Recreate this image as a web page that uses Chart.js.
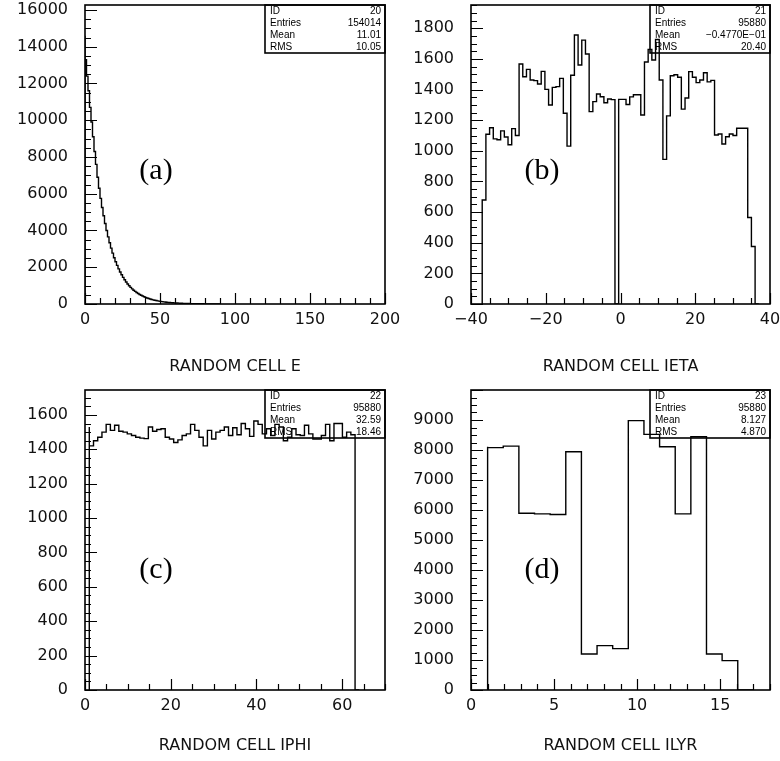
<!DOCTYPE html>
<html>
<head>
<meta charset="utf-8">
<script src="https://cdn.jsdelivr.net/npm/chart.js@4.4.0/dist/chart.umd.min.js"></script>
<style>
	body { margin: 0; background: #fff; }
	#page { position: relative; width: 780px; height: 761px; overflow: hidden; }
	.panel { position: absolute; }
</style>
</head>
<body>
<div id="page">
	<div class="panel" style="left:0;top:0"><canvas id="chartE" width="400" height="380"></canvas></div>
	<div class="panel" style="left:390px;top:0"><canvas id="chartIeta" width="390" height="380"></canvas></div>
	<div class="panel" style="left:0;top:380px"><canvas id="chartIphi" width="400" height="381"></canvas></div>
	<div class="panel" style="left:390px;top:380px"><canvas id="chartIlyr" width="390" height="381"></canvas></div>
</div>
<script>
// (a) RANDOM CELL E : bins of width 1 starting at 0
var eBinLow = 0;
var eBinHigh = 90;
var eCounts = [14600, 13300, 12400, 11600, 10700, 9900, 9100, 8300, 7600, 6900,
	6300, 5750, 5250, 4800, 4380, 4000, 3650, 3330, 3040, 2770,
	2520, 2300, 2100, 1910, 1740, 1590, 1450, 1320, 1200, 1090,
	995, 905, 825, 750, 685, 625, 570, 520, 475, 432,
	395, 360, 328, 298, 272, 248, 226, 206, 188, 171,
	156, 142, 129, 118, 107, 98, 89, 81, 74, 67,
	61, 56, 51, 46, 42, 38, 35, 32, 29, 26,
	24, 22, 20, 18, 16, 15, 13, 12, 11, 10,
	9, 8, 7, 7, 6, 5, 5, 4, 4, 3];
var eTicksX = [0, 50, 100, 150, 200];
var eTicksY = [0, 2000, 4000, 6000, 8000, 10000, 12000, 14000, 16000];
var eStats = [["ID", "20"], ["Entries", "154014"], ["Mean", "11.01"], ["RMS", "10.05"]];

// (b) RANDOM CELL IETA : 75 bins from -37 to 37
var ietaBinLow = -37;
var ietaBinHigh = 37;
var ietaCounts = [357, 679, 1108, 1151, 1078, 1072, 1130, 1090, 1040, 1145,
	1100, 1567, 1484, 1532, 1462, 1458, 1436, 1519, 1401, 1299,
	1414, 1419, 1473, 1245, 1031, 1493, 1756, 1560, 1723, 1632,
	1256, 1321, 1371, 1353, 1314, 1338, 1334, 0, 1336, 1336,
	1302, 1352, 1366, 1366, 1234, 1580, 1662, 1593, 1727, 1462,
	944, 1228, 1490, 1497, 1480, 1272, 1345, 1517, 1480, 1445,
	1462, 1510, 1450, 1460, 1103, 1110, 1045, 1092, 1110, 1100,
	1147, 1147, 1147, 565, 375];
var ietaTicksX = [-40, -20, 0, 20, 40];
var ietaTicksY = [0, 200, 400, 600, 800, 1000, 1200, 1400, 1600, 1800];
var ietaStats = [["ID", "21"], ["Entries", "95880"], ["Mean", "\u22120.4770E\u221201"], ["RMS", "20.40"]];

// (c) RANDOM CELL IPHI : 64 bins from 1 to 64
var iphiBinLow = 1;
var iphiBinHigh = 64;
var iphiCounts = [1530, 1420, 1450, 1470, 1500, 1545, 1510, 1540, 1505, 1500,
	1490, 1480, 1470, 1465, 1462, 1530, 1505, 1515, 1520, 1470,
	1460, 1440, 1455, 1480, 1490, 1545, 1510, 1470, 1420, 1510,
	1460, 1500, 1510, 1530, 1480, 1525, 1485, 1550, 1520, 1475,
	1565, 1545, 1490, 1520, 1480, 1545, 1530, 1450, 1470, 1520,
	1485, 1480, 1540, 1490, 1460, 1460, 1480, 1545, 1450, 1550,
	1550, 1470, 1500, 1485];
var iphiTicksX = [0, 20, 40, 60];
var iphiTicksY = [0, 200, 400, 600, 800, 1000, 1200, 1400, 1600];
var iphiStats = [["ID", "22"], ["Entries", "95880"], ["Mean", "32.59"], ["RMS", "18.46"]];

// (d) RANDOM CELL ILYR : 17 bins from 1 to 17
var ilyrBinLow = 1;
var ilyrBinHigh = 17;
var ilyrCounts = [8110, 8080, 8130, 5890, 5870, 5850, 7940, 1200, 1480, 1380,
	8980, 8520, 8110, 5870, 8440, 1200, 980];
var ilyrTicksX = [0, 5, 10, 15];
var ilyrTicksY = [0, 1000, 2000, 3000, 4000, 5000, 6000, 7000, 8000, 9000];
var ilyrStats = [["ID", "23"], ["Entries", "95880"], ["Mean", "8.127"], ["RMS", "4.870"]];

var labelFont = { family: "DejaVu Sans", size: 16 };

// outline of a histogram as points for a stepped line
function histPoints(lo, hi, counts) {
	var w = (hi - lo) / counts.length;
	var pts = [{ x: lo, y: 0 }];
	counts.forEach(function (c, i) {
		pts.push({ x: lo + i * w, y: c });
	});
	pts.push({ x: hi, y: 0 });
	return pts;
}

function fmt(v) {
	return v < 0 ? "\u2212" + Math.abs(v) : String(v);
}

function isMajor(v, step) {
	var r = Math.abs(v / step - Math.round(v / step));
	return r < 1e-6;
}

// PAW style frame, inward ticks, stats box and panel tag
var pawPlugin = {
	id: "paw",
	afterDatasetsDraw: function (chart, args, o) {
		var ctx = chart.ctx;
		var a = chart.chartArea;
		var xs = chart.scales.x;
		var ys = chart.scales.y;
		ctx.save();
		ctx.strokeStyle = "#000";

		ctx.lineWidth = 1.2;
		ctx.beginPath();
		var n = Math.round((xs.max - xs.min) / o.xMinor);
		for (var i = 0; i <= n; i++) {
			var v = xs.min + i * o.xMinor;
			var px = Math.round(xs.getPixelForValue(v)) + 0.5;
			var len = isMajor(v, o.xMajor) ? 11 : 6;
			ctx.moveTo(px, a.bottom);
			ctx.lineTo(px, a.bottom - len);
		}
		n = Math.floor((ys.max - ys.min) / o.yMinor + 1e-6);
		for (var j = 0; j <= n; j++) {
			var w = ys.min + j * o.yMinor;
			var py = Math.round(ys.getPixelForValue(w)) + 0.5;
			var l2 = isMajor(w, o.yMajor) ? 12 : 6;
			ctx.moveTo(a.left, py);
			ctx.lineTo(a.left + l2, py);
		}
		ctx.stroke();

		ctx.lineWidth = 1.6;
		ctx.strokeRect(a.left, a.top, a.right - a.left, a.bottom - a.top);

		// statistics box
		var bw = 120, bh = o.boxH;
		var bx = a.right - bw, by = a.top;
		ctx.strokeRect(bx, by, bw, bh);
		ctx.fillStyle = "#000";
		ctx.font = "10px 'Liberation Sans'";
		ctx.textBaseline = "middle";
		o.stats.forEach(function (row, k) {
			var ty = by + 6 + k * 12;
			ctx.textAlign = "left";
			ctx.fillText(row[0], bx + 5, ty);
			ctx.textAlign = "right";
			ctx.fillText(row[1], bx + bw - 4, ty);
		});

		// panel tag
		ctx.font = "30px 'Liberation Serif'";
		ctx.textAlign = "center";
		ctx.fillText(o.tag, o.tagX, o.tagY);
		ctx.restore();
	}
};

function makePanel(id, cfg) {
	var ctx = document.getElementById(id).getContext("2d");
	return new Chart(ctx, {
		type: "line",
		data: {
			datasets: [{
				data: histPoints(cfg.lo, cfg.hi, cfg.counts),
				stepped: "after",
				borderColor: "#000",
				borderWidth: 1.4,
				pointRadius: 0,
				fill: false
			}]
		},
		options: {
			responsive: false,
			animation: false,
			devicePixelRatio: 1,
			layout: { padding: { top: cfg.top, right: cfg.right, left: 0, bottom: 0 } },
			plugins: {
				legend: { display: false },
				tooltip: { enabled: false },
				paw: cfg.paw
			},
			scales: {
				x: {
					type: "linear",
					min: cfg.xMin,
					max: cfg.xMax,
					afterBuildTicks: function (s) {
						s.ticks = cfg.xTicks.map(function (v) { return { value: v }; });
					},
					afterFit: function (s) {
						s.height = cfg.axisH;
						s.paddingLeft = 0;
						s.paddingRight = 0;
						s.paddingTop = 0;
						s.paddingBottom = 0;
					},
					grid: { display: false, drawTicks: false },
					border: { display: false },
					ticks: { font: labelFont, color: "#111", padding: 6, maxRotation: 0, autoSkip: false, callback: fmt },
					title: {
						display: true,
						text: cfg.title,
						font: labelFont,
						color: "#111",
						padding: { top: 0, bottom: cfg.titlePad }
					}
				},
				y: {
					type: "linear",
					min: 0,
					max: cfg.yMax,
					afterBuildTicks: function (s) {
						s.ticks = cfg.yTicks.map(function (v) { return { value: v }; });
					},
					afterFit: function (s) {
						s.width = cfg.axisW;
						s.paddingLeft = 0;
						s.paddingRight = 0;
						s.paddingTop = 0;
						s.paddingBottom = 0;
					},
					grid: { display: false, drawTicks: false },
					border: { display: false },
					ticks: { font: labelFont, color: "#111", padding: 17, autoSkip: false, callback: fmt }
				}
			}
		},
		plugins: [pawPlugin]
	});
}

makePanel("chartE", {
	lo: eBinLow, hi: eBinHigh, counts: eCounts,
	xMin: 0, xMax: 200, yMax: 16270, xTicks: eTicksX, yTicks: eTicksY,
	title: "RANDOM CELL E", top: 5, right: 15, axisH: 76, axisW: 85, titlePad: 4,
	paw: { xMajor: 50, xMinor: 10, yMajor: 2000, yMinor: 500, stats: eStats, boxH: 48, tag: "(a)", tagX: 156, tagY: 171 }
});

makePanel("chartIeta", {
	lo: ietaBinLow, hi: ietaBinHigh, counts: ietaCounts,
	xMin: -40, xMax: 40, yMax: 1952, xTicks: ietaTicksX, yTicks: ietaTicksY,
	title: "RANDOM CELL IETA", top: 5, right: 10, axisH: 76, axisW: 81, titlePad: 4,
	paw: { xMajor: 20, xMinor: 5, yMajor: 200, yMinor: 50, stats: ietaStats, boxH: 48, tag: "(b)", tagX: 152, tagY: 171 }
});

makePanel("chartIphi", {
	lo: iphiBinLow, hi: iphiBinHigh, counts: iphiCounts,
	xMin: 0, xMax: 70, yMax: 1745, xTicks: iphiTicksX, yTicks: iphiTicksY,
	title: "RANDOM CELL IPHI", top: 10, right: 15, axisH: 71, axisW: 85, titlePad: 6,
	paw: { xMajor: 20, xMinor: 5, yMajor: 200, yMinor: 50, stats: iphiStats, boxH: 48, tag: "(c)", tagX: 156, tagY: 190 }
});

makePanel("chartIlyr", {
	lo: ilyrBinLow, hi: ilyrBinHigh, counts: ilyrCounts,
	xMin: 0, xMax: 18, yMax: 10000, xTicks: ilyrTicksX, yTicks: ilyrTicksY,
	title: "RANDOM CELL ILYR", top: 10, right: 10, axisH: 71, axisW: 81, titlePad: 6,
	paw: { xMajor: 5, xMinor: 1, yMajor: 1000, yMinor: 250, stats: ilyrStats, boxH: 48, tag: "(d)", tagX: 152, tagY: 190 }
});
</script>
</body>
</html>
